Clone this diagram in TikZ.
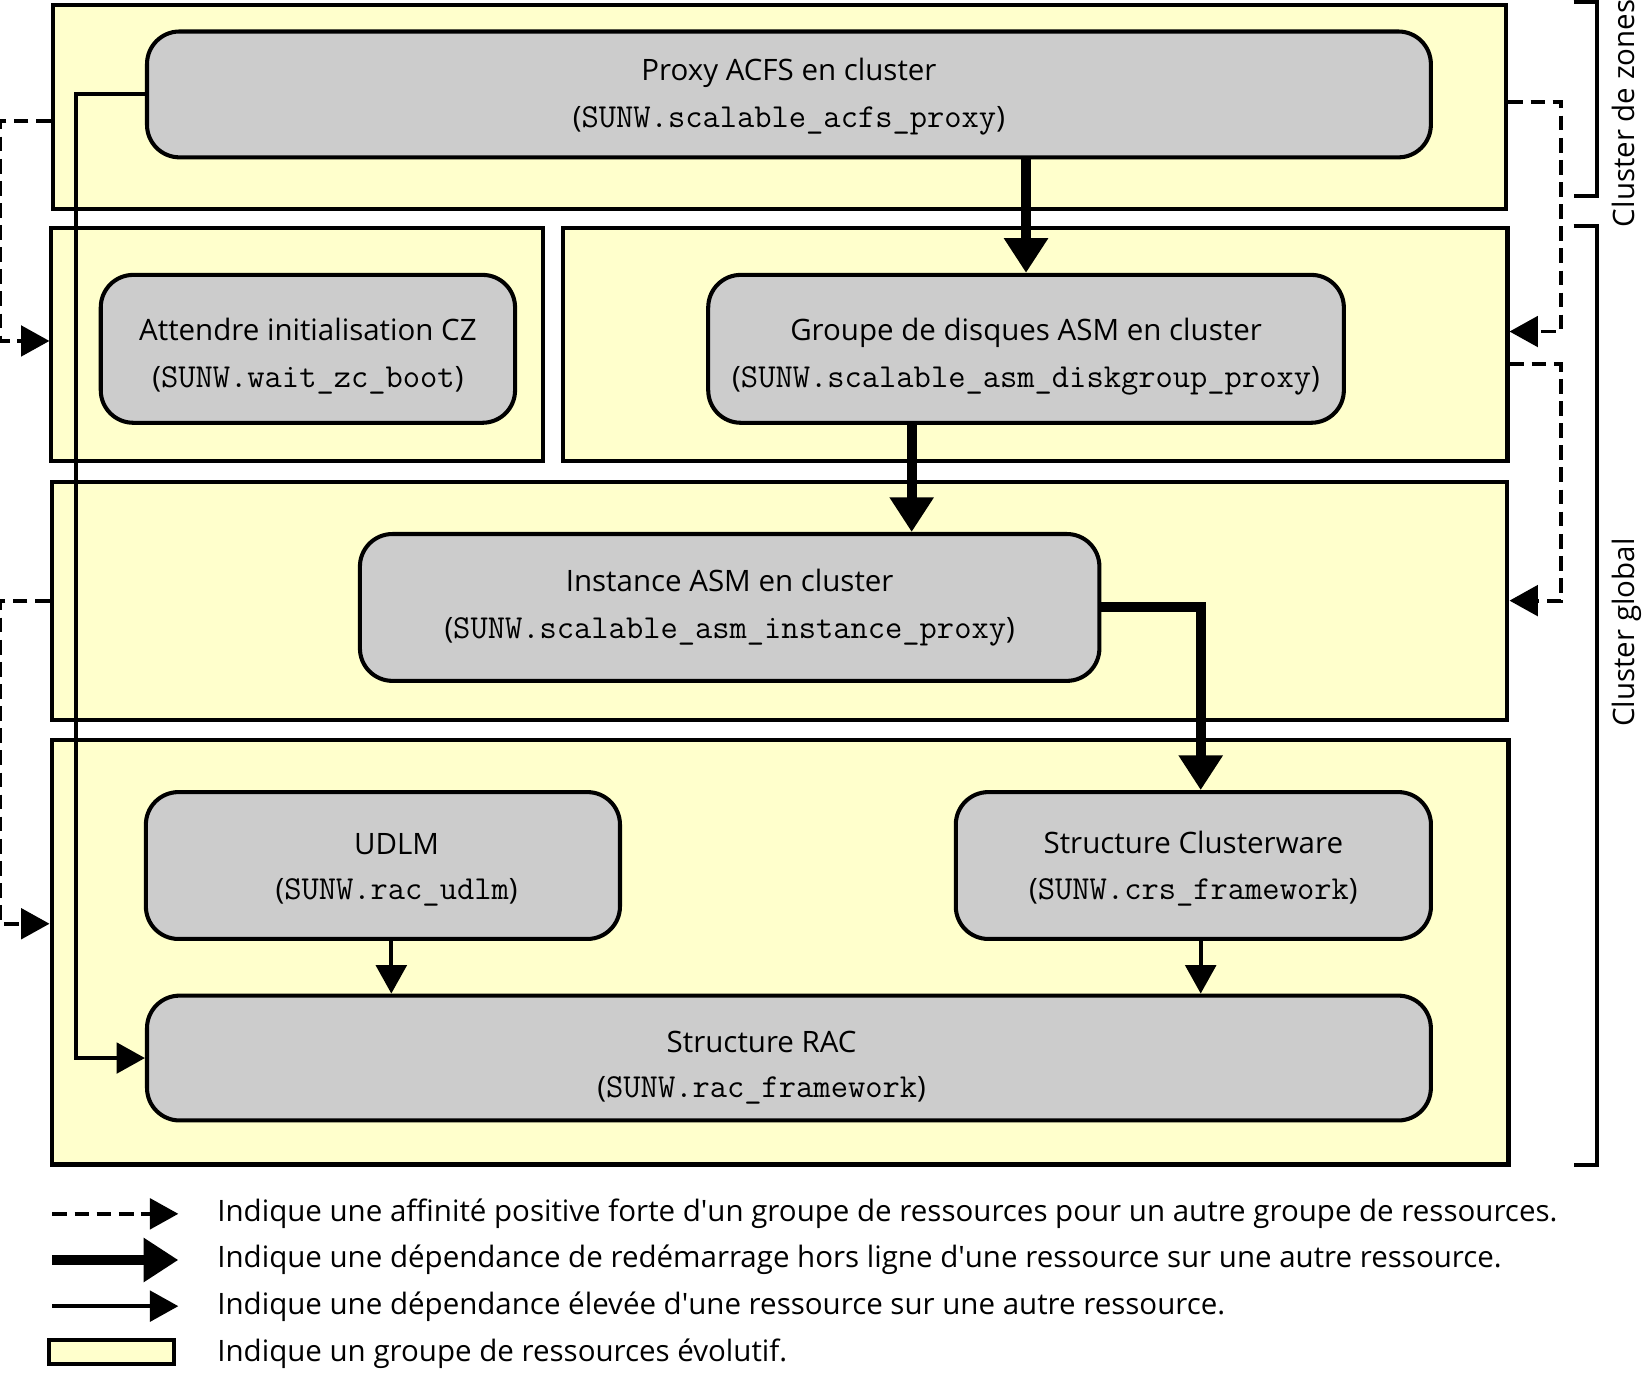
\documentclass[tikz,border=0pt]{standalone}
\usepackage{fontspec}
\setmainfont{Open Sans}
\usepackage{tikz}
\usetikzlibrary{positioning, arrows.meta, calc}
\definecolor{groupyellow}{HTML}{FFFFCC}
\definecolor{resgray}{HTML}{CCCCCC}
\newcommand{\restype}[1]{({\ttfamily\fontsize{18.2}{20}\selectfont #1})}
\newcommand{\apos}{\textquotesingle}

\begin{document}
\begin{tikzpicture}[x=0.02cm, y=-0.02cm,
        textfont/.style={font=\fontsize{16}{20}\selectfont},
        group/.style={draw, line width=2.2pt, fill=groupyellow, inner sep=0pt},
        res/.style={draw, line width=2.2pt, fill=resgray, rounded corners=0.62cm},
        restext/.style={align=center, textfont},
        restart/.style={line width=5.4pt, -{Triangle[length=18.8pt, width=22.8pt]}},
        highdep/.style={line width=2.2pt, -{Triangle[length=15.4pt, width=16.5pt]}},
        affinity/.style={line width=2.1pt, dash pattern=on 8pt off 4pt, -{Triangle[length=15.4pt, width=16.5pt]}}]
            \useasboundingbox (0,0) rectangle (1568,1309);

            % groupes de ressources
            \node[group, minimum width=27.72cm, minimum height=3.88cm] (G1) at (743,102) {};
            \node[group, minimum width=9.38cm, minimum height=4.44cm] (G2) at (283.5,328) {};
            \node[group, minimum width=18cm, minimum height=4.44cm] (G3) at (987,328) {};
            \node[group, minimum width=27.76cm, minimum height=4.54cm] (G4) at (743,572.5) {};
            \node[group, minimum width=27.78cm, minimum height=8.1cm] (G5) at (743.5,907.5) {};

            % ressources
            \node[res, minimum width=24.48cm, minimum height=2.4cm,
                label={[restext, yshift=-0.04cm]center:{Proxy ACFS en cluster\\[5.5pt]\restype{SUNW.scalable\_acfs\_proxy}}}] (R1) at (752,90) {};
            \node[res, minimum width=7.9cm, minimum height=2.82cm,
                label={[restext, yshift=-0.14cm]center:{Attendre initialisation CZ\\[5.5pt]\restype{SUNW.wait\_zc\_boot}}}] (R2) at (293.5,332.5) {};
            \node[res, minimum width=12.12cm, minimum height=2.82cm,
                label={[restext, yshift=-0.15cm]center:{Groupe de disques ASM en cluster\\[5.5pt]\restype{SUNW.scalable\_asm\_diskgroup\_proxy}}}] (R3) at (978,332.5) {};
            \node[res, minimum width=14.1cm, minimum height=2.8cm,
                label={[restext]center:{Instance ASM en cluster\\[5.5pt]\restype{SUNW.scalable\_asm\_instance\_proxy}}}] (R4) at (695.5,579) {};
            \node[res, minimum width=9.04cm, minimum height=2.8cm,
                label={[restext, xshift=0.26cm, yshift=-0.08cm]center:{UDLM\\[4.5pt]\restype{SUNW.rac\_udlm}}}] (R5) at (365,825) {};
            \node[res, minimum width=9.06cm, minimum height=2.8cm,
                label={[restext, yshift=-0.06cm]center:{Structure Clusterware\\[4.5pt]\restype{SUNW.crs\_framework}}}] (R6) at (1137.5,825) {};
            \node[res, minimum width=24.48cm, minimum height=2.38cm,
                label={[restext, xshift=-0.52cm, yshift=-0.18cm]center:{Structure RAC\\[4.5pt]\restype{SUNW.rac\_framework}}}] (R7) at (752,1008.5) {};

            % dependances
            \draw[restart] (R3.north |- R1.south) -- (R3.north);
            \draw[restart] ($(R3.south)+(-109,0)$) coordinate (D1) -- (D1 |- R4.north);
            \draw[restart] (R4.east) -| ($(R6.north)+(7,0)$);
            \draw[highdep] ($(R5.south)+(8,0)$) coordinate (D2) -- (D2 |- R7.north);
            \draw[highdep] ($(R6.south)+(7,0)$) coordinate (D3) -- (D3 |- R7.north);
            \draw[highdep] (R1.west) -- ++(-66,0) |- (R7.west);

            % affinites
            \draw[affinity] ($(G1.west)+(0,13)$) -- ++(-48,0) |- ($(G2.west)+(0,-3)$);
            \draw[affinity] (G4.west) -- ++(-47,0) |- ($(G5.west)+(0,-27)$);
            \draw[affinity] ($(G1.east)+(0,-5)$) -- ++(50,0) |- ($(G3.east)+(0,-12)$);
            \draw[affinity] ($(G3.east)+(0,19)$) -- ++(49,0) |- (G4.east);

            % clusters
            \draw[line width=2.2pt] (1500,2) -- (1522,2) -- (1522,187) -- (1500,187);
            \draw[line width=2.2pt] (1500,215) -- (1522,215) -- (1522,1110) -- (1500,1110);
            \node[textfont, rotate=90, anchor=base] (K1) at (1558,108) {Cluster de zones};
            \node[textfont, rotate=90, anchor=base] (K2) at (1558,603) {Cluster global};

            % legende
            \coordinate (A1) at (50,1157);
            \coordinate (B1) at (170,1157);
            \coordinate (A2) at (50,1201);
            \coordinate (B2) at (170,1201);
            \coordinate (A3) at (50,1245);
            \coordinate (B3) at (170,1245);
            \draw[affinity] (A1) -- (B1);
            \draw[restart] (A2) -- (B2);
            \draw[highdep] (A3) -- (B3);
            \node[group, minimum width=2.38cm, minimum height=0.46cm] (L4) at (106.5,1288.5) {};
            \node[textfont, anchor=west] (L1) at (201,1157) {Indique une affinité positive forte d\apos un groupe de ressources pour un autre groupe de ressources.};
            \node[textfont, anchor=west] (L2) at (201,1201) {Indique une dépendance de redémarrage hors ligne d\apos une ressource sur une autre ressource.};
            \node[textfont, anchor=west] (L3) at (201,1246) {Indique une dépendance élevée d\apos une ressource sur une autre ressource.};
            \node[textfont, anchor=west] (L5) at (201,1290) {Indique un groupe de ressources évolutif.};
        \end{tikzpicture}
\end{document}
